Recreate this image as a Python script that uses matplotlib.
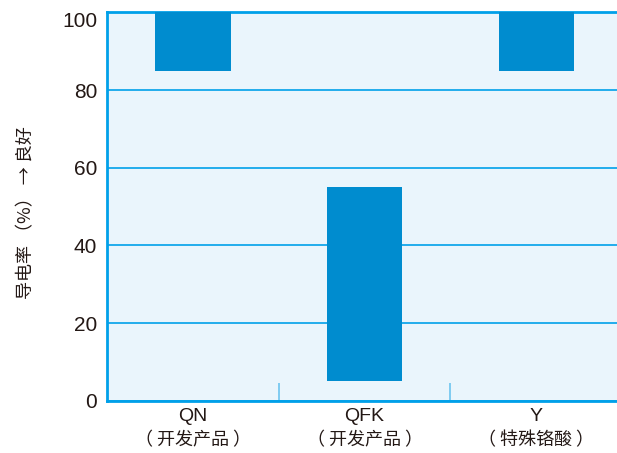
import numpy as np
import matplotlib.pyplot as plt
from matplotlib.transforms import blended_transform_factory, ScaledTranslation

# conductivity range for each product (low, high), %
names = ['QN', 'QFK', 'Y']
notes = ['（ 开发产品 ）', '（ 开发产品 ）', '（ 特殊铬酸 ）']
low = [85, 5, 85]
high = [100, 55, 100]
yticks = [0, 20, 40, 60, 80, 100]

plt.rcParams['font.family'] = ['Liberation Sans', 'Noto Sans CJK SC', 'DejaVu Sans']
cjk = ['Noto Sans CJK SC', 'DejaVu Sans']

line_blue = '#00a0e9'
bar_blue = '#008ccf'
text_col = '#231815'

fig = plt.figure(figsize=(6.17, 4.53), dpi=100)
ax = fig.add_axes([0.1734, 0.1154, 0.835, 0.8572])
ax.set_facecolor('#eaf5fc')

x = np.arange(len(names))
ax.bar(x, np.array(high) - np.array(low), bottom=low, width=0.44,
       color=bar_blue, zorder=3)

ax.set_xlim(-0.5, 2.5)
ax.set_ylim(0, 100)
ax.set_yticks(yticks)
ax.set_yticklabels([str(v) for v in yticks], fontsize=15, color=text_col)
# keep the top label inside the frame
top_lab = ax.yaxis.get_ticklabels()[-1]
top_lab.set_verticalalignment('top')
top_lab.set_transform(top_lab.get_transform()
                      + ScaledTranslation(0, -4 / 100, fig.dpi_scale_trans))
ax.tick_params(axis='y', length=0, pad=7)
ax.grid(axis='y', color=line_blue, linewidth=1.2, zorder=1)

ax.set_xticks(x)
ax.set_xticklabels(names, fontsize=14, color=text_col)
ax.tick_params(axis='x', length=0, pad=5)
# second line of each category label
trans = blended_transform_factory(ax.transData, fig.transFigure)
for xi, note in zip(x, notes):
    ax.text(xi, 1 - 440 / 453, note, transform=trans, ha='center', va='center',
            fontsize=13, family=cjk, color=text_col)
# short separators between categories
ax.set_xticks([0.5, 1.5], minor=True)
ax.tick_params(axis='x', which='minor', direction='in', length=13,
               width=1.2, color='#6cc4ef')

for side in ['left', 'bottom', 'top']:
    ax.spines[side].set_color(line_blue)
    ax.spines[side].set_linewidth(2)
ax.spines['right'].set_visible(False)

fig.text(0.042, 0.53, '导电率 （%） → 良好', rotation=90, fontsize=13,
         family=cjk, color=text_col, ha='center', va='center')

fig.savefig('out.png', dpi=100)
